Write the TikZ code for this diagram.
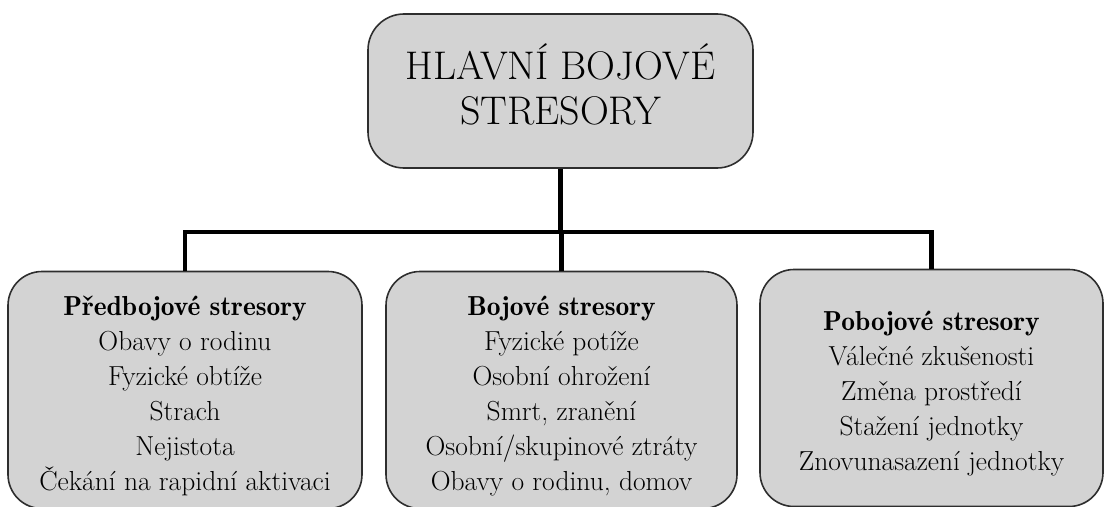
\documentclass[tikz,border=0pt]{standalone}
\usepackage{amsmath,amssymb}
\usepackage{xcolor}

\definecolor{boxgray}{HTML}{D3D3D3}
\definecolor{edgegray}{HTML}{2E2E2E}

\tikzset{
  headbox/.style={draw=edgegray, fill=boxgray, line width=1.6pt, rounded corners=36pt,
    minimum width=385pt, minimum height=154pt, align=center, font=\fontsize{40}{45}\selectfont},
  stressbox/.style={draw=edgegray, fill=boxgray, line width=1.6pt, rounded corners=34pt,
    minimum height=237pt, align=center, font=\fontsize{27.5}{35}\selectfont},
  link/.style={line width=4.5pt, draw=black}
}
\newcommand{\boxtitle}[1]{\rule{0pt}{31pt}{\fontseries{b}\selectfont #1}}

\begin{document}
\begin{tikzpicture}[x=1pt,y=-1pt]
      \useasboundingbox (0,0) rectangle (1105,506);

      \node[headbox] (head) at (560.5,91) {HLAVNÍ BOJOVÉ\\STRESORY\rule[-13pt]{0pt}{0pt}};

      \node[stressbox, minimum width=354pt] (pre) at (185,390)
        {\boxtitle{Předbojové stresory}\\Obavy o rodinu\\Fyzické obtíže\\Strach\\Nejistota\\Čekání na rapidní aktivaci};
      \node[stressbox, minimum width=351pt] (boj) at (561.5,390)
        {\boxtitle{Bojové stresory}\\Fyzické potíže\\Osobní ohrožení\\Smrt, zranění\\Osobní/skupinové ztráty\\Obavy o rodinu, domov};
      \node[stressbox, minimum width=343pt] (post) at (931.5,388)
        {\boxtitle{Pobojové stresory}\\Válečné zkušenosti\\Změna prostředí\\Stažení jednotky\\Znovunasazení jednotky};

      \coordinate (bar) at (560,232);
      \draw[link] (head.south) -- (head.south |- bar);
      \draw[link] (pre.north) -- (pre.north |- bar) -- (post.north |- bar) -- (post.north);
      \draw[link] (boj.north) -- (boj.north |- bar);
\end{tikzpicture}
\end{document}
